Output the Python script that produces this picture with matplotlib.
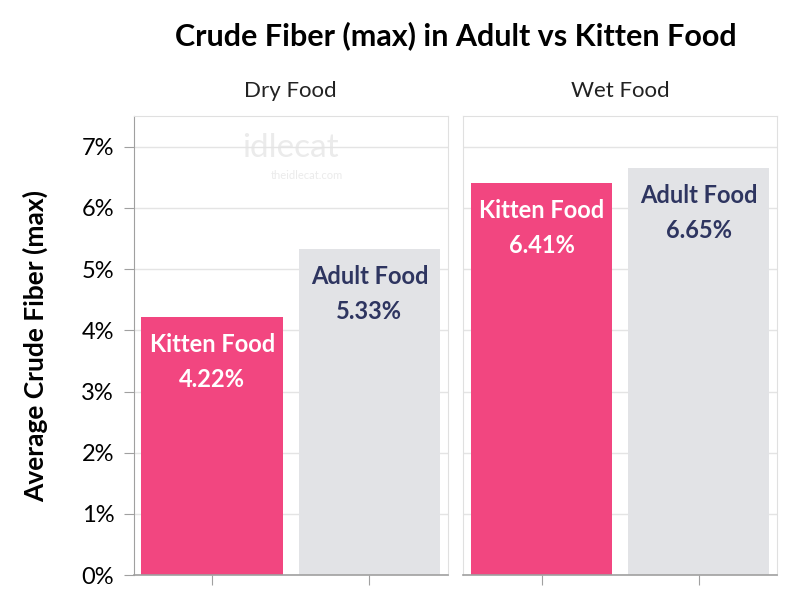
import matplotlib.pyplot as plt
from matplotlib.ticker import FuncFormatter

panels = ["Dry Food", "Wet Food"]
groups = ["Kitten Food", "Adult Food"]
dry_vals = [4.22, 5.33]
wet_vals = [6.41, 6.65]

pink = "#F24680"
grey = "#E2E3E6"
navy = "#2E3560"

plt.rcParams['font.family'] = ['Lato', 'DejaVu Sans']

fig = plt.figure(figsize=(8, 6.08), dpi=100)
ax1 = fig.add_axes([0.167, 0.054, 0.393, 0.755])
ax2 = fig.add_axes([0.579, 0.054, 0.3925, 0.755])

for ax, title, vals in [(ax1, panels[0], dry_vals), (ax2, panels[1], wet_vals)]:
    x = list(range(len(groups)))
    ax.bar(x, vals, width=0.9, color=[pink, grey], zorder=2)
    ax.set_xlim(-0.5, 1.5)
    ax.set_ylim(0, 7.5)
    ax.set_yticks(range(0, 8))
    ax.set_xticks(x)
    ax.set_xticklabels([])
    ax.grid(axis="y", color="#E4E4E4", linewidth=1, zorder=0)
    ax.set_title(title, fontsize=16, pad=14, color="#222222")
    for s in ["top", "right"]:
        ax.spines[s].set_color("#E0E0E0")
    ax.spines["bottom"].set_color("#A0A0A0")
    ax.spines["left"].set_color("#A0A0A0")
    ax.spines["bottom"].set_linewidth(1.2)
    ax.tick_params(axis="x", length=7, color="#A0A0A0")
    ax.tick_params(axis="y", length=7, color="#A0A0A0", labelsize=17, pad=7)
    ax.yaxis.set_major_formatter(FuncFormatter(lambda v, p: "%d%%" % v))
    for i, v in enumerate(vals):
        c = "white" if i == 0 else navy
        ax.annotate(groups[i], (i, v), xytext=(0, -20), textcoords="offset points",
                    ha="center", va="center", fontsize=17, fontweight="bold", color=c, zorder=3)
        ax.annotate("%.2f%%" % v, (i, v), xytext=(0, -45), textcoords="offset points",
                    ha="center", va="center", fontsize=17, fontweight="bold", color=c, zorder=3)

ax2.spines["left"].set_color("#E0E0E0")
ax2.tick_params(axis="y", left=False, labelleft=False)

ax1.set_ylabel("Average Crude Fiber (max)", fontsize=19, fontweight="bold")
ax1.yaxis.set_label_coords(-0.272, 0.5)

# watermark
ax1.text(0.5, 0.93, "idlecat", transform=ax1.transAxes, fontsize=24, color="#EBEBEB",
         ha="center", va="center", zorder=1)
ax1.text(0.55, 0.87, "theidlecat.com", transform=ax1.transAxes, fontsize=8, color="#EBEBEB",
         ha="center", va="center", zorder=1)

fig.suptitle("Crude Fiber (max) in Adult vs Kitten Food", x=0.57, y=0.965,
             fontsize=22, fontweight="bold")

fig.savefig("out.png", dpi=100, facecolor="white")
